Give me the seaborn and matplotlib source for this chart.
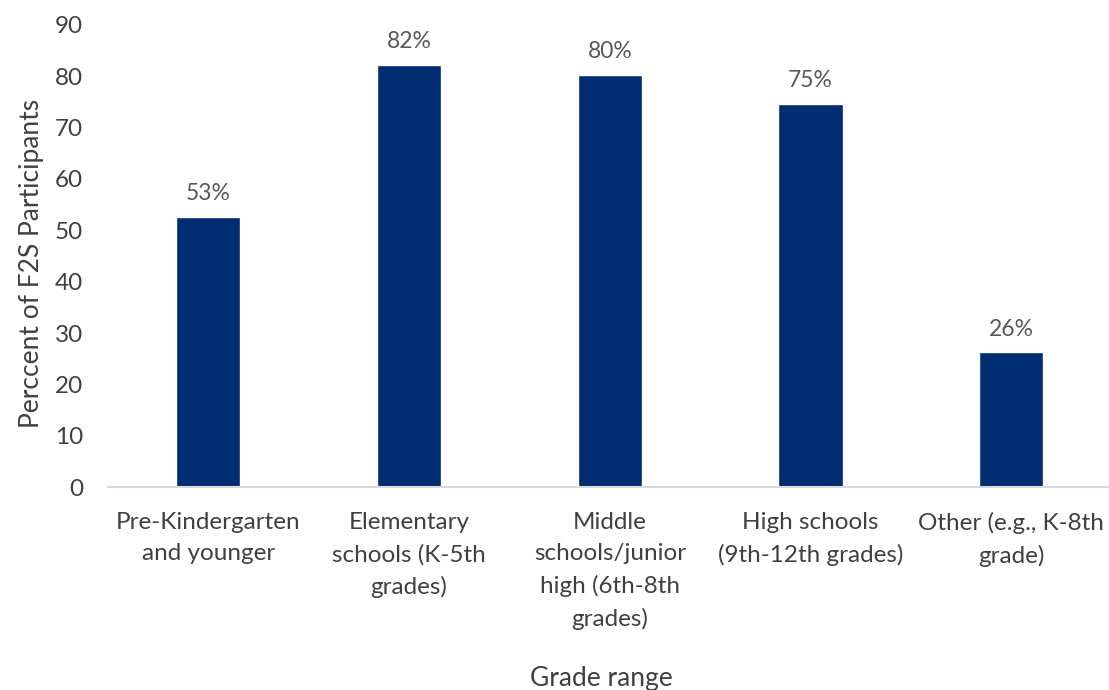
import matplotlib
matplotlib.use("Agg")
import matplotlib.pyplot as plt
import seaborn as sns
import pandas as pd

categories = [
    "Pre-Kindergarten\nand younger",
    "Elementary\nschools (K-5th\ngrades)",
    "Middle\nschools/junior\nhigh (6th-8th\ngrades)",
    "High schools\n(9th-12th grades)",
    "Other (e.g., K-8th\ngrade)",
]
values = [52.6, 82.2, 80.3, 74.6, 26.3]
value_labels = ["53%", "82%", "80%", "75%", "26%"]
y_ticks = [0, 10, 20, 30, 40, 50, 60, 70, 80, 90]

sns.set_theme(style="white")
plt.rcParams["font.family"] = ["Lato", "DejaVu Sans"]

df = pd.DataFrame({"cat": categories, "val": values})

fig = plt.figure(figsize=(11.09, 6.9), dpi=100)
ax = fig.add_axes([0.0974, 0.294, 0.905, 0.670])
sns.barplot(data=df, x="cat", y="val", color="#002D72", width=0.32, ax=ax,
            saturation=1)

for i, (v, lab) in enumerate(zip(values, value_labels)):
    ax.annotate(lab, (i, v), xytext=(0, 9), textcoords="offset points",
                ha="center", va="bottom", fontsize=16.5, color="#595959")

ax.set_ylim(0, 90)
ax.set_xlim(-0.5, 4.5)
ax.set_yticks(y_ticks)
ax.tick_params(axis="both", length=0, labelsize=17.5, colors="#404040")
ax.tick_params(axis="y", pad=18)
ax.tick_params(axis="x", pad=18)
for t in ax.get_xticklabels():
    t.set_linespacing(1.6)
for s in ["top", "right", "left"]:
    ax.spines[s].set_visible(False)
ax.spines["bottom"].set_color("#D9D9D9")
ax.spines["bottom"].set_linewidth(1.5)
ax.set_ylabel("Perccent of F2S Participants", fontsize=19, color="#404040", labelpad=8)
ax.yaxis.label.set_y(0.483)
ax.set_xlabel("Grade range", fontsize=19, color="#404040", labelpad=26)
ax.xaxis.label.set_x(0.492)

fig.savefig("out.png", dpi=100)
